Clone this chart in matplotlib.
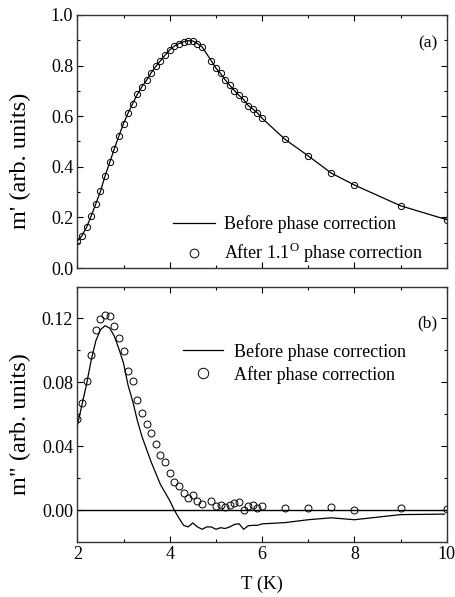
import numpy as np
import matplotlib.pyplot as plt
from matplotlib.ticker import MultipleLocator

plt.rcParams['font.family'] = ['Liberation Serif', 'DejaVu Serif']
plt.rcParams['mathtext.fontset'] = 'custom'
plt.rcParams['mathtext.rm'] = 'Liberation Serif'

# temperatures (K) of the measured points
T = [2.0, 2.1, 2.2, 2.3, 2.4, 2.5, 2.6, 2.7, 2.8, 2.9,
     3.0, 3.1, 3.2, 3.3, 3.4, 3.5, 3.6, 3.7, 3.8, 3.9,
     4.0, 4.1, 4.2, 4.3, 4.4, 4.5, 4.6, 4.7,
     4.9, 5.0, 5.1, 5.2, 5.3, 5.4, 5.5, 5.6, 5.7, 5.8, 5.9, 6.0,
     6.5, 7.0, 7.5, 8.0, 9.0, 10.0]

# (a) real part m'
m1 = [0.106, 0.128, 0.161, 0.206, 0.254, 0.303, 0.364, 0.417, 0.471, 0.522,
      0.571, 0.613, 0.650, 0.687, 0.717, 0.742, 0.772, 0.797, 0.819, 0.841,
      0.862, 0.877, 0.887, 0.894, 0.898, 0.897, 0.887, 0.874,
      0.819, 0.790, 0.769, 0.744, 0.722, 0.701, 0.682, 0.666, 0.642, 0.628, 0.613, 0.592,
      0.508, 0.443, 0.375, 0.328, 0.246, 0.191]

# (b) imaginary part m'' after phase correction
m2_after = [0.0568, 0.067, 0.0808, 0.0974, 0.1127, 0.1194, 0.1225, 0.1214, 0.1154, 0.1076,
            0.0995, 0.0871, 0.0808, 0.0691, 0.0607, 0.0541, 0.0486, 0.0413, 0.0346, 0.0300,
            0.0235, 0.0178, 0.0151, 0.0105, 0.0075, 0.0095, 0.006, 0.004,
            0.0055, 0.0025, 0.003, 0.002, 0.003, 0.0045, 0.005, 0.0, 0.0025, 0.003, 0.0015, 0.0025,
            0.0015, 0.0015, 0.002, 0.0, 0.0015, 0.0005]

# (b) m'' before phase correction (line)
T_line = [2.0, 2.1, 2.2, 2.3, 2.4, 2.5, 2.6, 2.7, 2.8, 2.9,
          3.0, 3.1, 3.2, 3.3, 3.4, 3.5, 3.6, 3.7, 3.8, 3.9,
          4.0, 4.1, 4.2, 4.3, 4.4, 4.5, 4.6, 4.7, 4.8, 4.9,
          5.0, 5.1, 5.2, 5.3, 5.4, 5.5, 5.6, 5.7, 5.8, 5.9, 6.0,
          6.5, 7.0, 7.5, 8.0, 9.0, 9.95]
m2_before = [0.053, 0.066, 0.079, 0.094, 0.106, 0.113, 0.1155, 0.114, 0.109, 0.101,
             0.092, 0.078, 0.068, 0.056, 0.046, 0.038, 0.030, 0.023, 0.016, 0.011,
             0.006, 0.000, -0.005, -0.0095, -0.0105, -0.008, -0.0105, -0.012, -0.0105, -0.0105,
             -0.012, -0.011, -0.0115, -0.0105, -0.009, -0.0085, -0.012, -0.0098, -0.0095, -0.0095, -0.0086,
             -0.0078, -0.006, -0.0048, -0.006, -0.0028, -0.0025]

fig = plt.figure(figsize=(4.55, 5.97), dpi=100)
ax1 = fig.add_axes([0.170, 0.551, 0.812, 0.424])
ax2 = fig.add_axes([0.170, 0.092, 0.812, 0.428])

for ax in (ax1, ax2):
    ax.set_xlim(2, 10)
    ax.xaxis.set_major_locator(MultipleLocator(2))
    ax.xaxis.set_minor_locator(MultipleLocator(1))
    ax.tick_params(which='both', direction='in', top=True, right=True, labelsize=13)
    ax.tick_params(which='major', length=4, width=0.8, pad=3)
    ax.tick_params(which='minor', length=2.5, width=0.8)
    for s in ax.spines.values():
        s.set_linewidth(1.0)
        s.set_color('#333333')

# panel (a)
ax1.plot(T, m1, color='black', lw=0.9, label='Before phase correction')
ax1.plot(T, m1, ls='none', marker='o', ms=4.5, mfc='none', mec='black', mew=0.7,
         label='After 1.1$^{\\mathrm{O}}$ phase correction')
ax1.set_ylim(0, 1.0)
ax1.yaxis.set_major_locator(MultipleLocator(0.2))
ax1.yaxis.set_minor_locator(MultipleLocator(0.1))
ax1.yaxis.set_major_formatter(plt.FormatStrFormatter('%.1f'))
ax1.tick_params(labelbottom=False)
ax1.set_ylabel("m' (arb. units)", fontsize=17.5)
ax1.yaxis.set_label_coords(-0.125, 0.423)
ax1.text(0.975, 0.87, '(a)', transform=ax1.transAxes, ha='right', fontsize=12.5)
ax1.legend(loc='center left', bbox_to_anchor=(0.259, 0.11), frameon=False, fontsize=13,
           handlelength=2.3, borderaxespad=0, borderpad=0, labelspacing=0.45,
           handletextpad=0.55, markerscale=1.4)

# panel (b)
ax2.axhline(0, color='black', lw=1.0)
ax2.plot(T_line, m2_before, color='black', lw=0.9, label='Before phase correction')
ax2.plot(T, m2_after, ls='none', marker='o', ms=5, mfc='none', mec='black', mew=0.7,
         label='After phase correction')
ax2.set_ylim(-0.02, 0.14)
ax2.yaxis.set_major_locator(MultipleLocator(0.04))
ax2.yaxis.set_minor_locator(MultipleLocator(0.02))
ax2.yaxis.set_major_formatter(plt.FormatStrFormatter('%.2f'))
ax2.set_ylabel('m" (arb. units)', fontsize=17.5)
ax2.yaxis.set_label_coords(-0.125, 0.463)
ax2.set_xlabel('T (K)', fontsize=13.5, labelpad=9)
ax2.text(0.975, 0.84, '(b)', transform=ax2.transAxes, ha='right', fontsize=12.5)
ax2.legend(loc='center left', bbox_to_anchor=(0.286, 0.70), frameon=False, fontsize=13,
           handlelength=2.2, borderaxespad=0, borderpad=0, labelspacing=0.3,
           handletextpad=0.6, markerscale=1.5)

fig.savefig('out.png', dpi=100)
